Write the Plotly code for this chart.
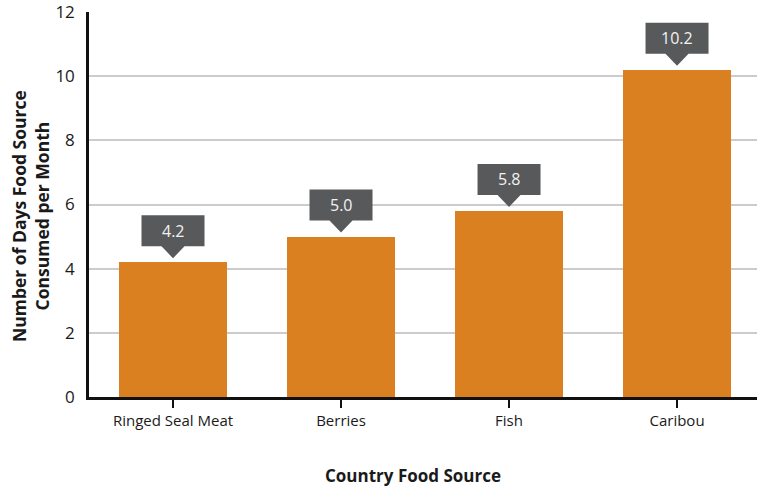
import plotly.graph_objects as go

categories = ["Ringed Seal Meat", "Berries", "Fish", "Caribou"]
values = [4.2, 5.0, 5.8, 10.2]
y_ticks = [0, 2, 4, 6, 8, 10, 12]

BAR = "#DB8020"
CALLOUT = "#58595B"
FONT = "Open Sans"
TXT = "#1a1a1a"

L, R, T, B, W, H = 89, 0, 12, 90, 757, 487
PW, PH = W - L - R, H - T - B

fig = go.Figure()
fig.add_trace(go.Bar(
    x=list(range(len(categories))), y=values, width=0.645,
    marker=dict(color=BAR, line=dict(width=0)), hoverinfo="skip",
))

# callouts: box + pointer, anchored to each bar top, sized in pixels
box_half, box_bot, box_top, tip, tri_half = 31.5, 16, 47, 4, 11.5
path = (f"M {-box_half},{box_bot} L {-tri_half},{box_bot} L 0,{tip} L {tri_half},{box_bot} "
        f"L {box_half},{box_bot} L {box_half},{box_top} L {-box_half},{box_top} Z")
for i, v in enumerate(values):
    fig.add_shape(type="path", xref="x", yref="y", xsizemode="pixel", ysizemode="pixel",
                  xanchor=i, yanchor=v, path=path, fillcolor=CALLOUT, line=dict(width=0),
                  layer="above")
    fig.add_annotation(x=i, y=v, xref="x", yref="y", text=f"{v:.1f}", showarrow=False,
                       yshift=(box_bot + box_top) / 2, yanchor="middle",
                       font=dict(family=FONT, size=16, color="#F2F2F2"))

# axis titles
fig.add_annotation(xref="paper", yref="paper", x=(413 - L) / PW, y=-(475 - (T + PH)) / PH,
                   text="<b>Country Food Source</b>", showarrow=False,
                   xanchor="center", yanchor="middle",
                   font=dict(family=FONT, size=17, color=TXT))
fig.add_annotation(xref="paper", yref="paper", x=(31 - L) / PW, y=((T + PH) - 216) / PH,
                   text="<b>Number of Days Food Source<br>Consumed per Month</b>",
                   showarrow=False, textangle=-90, xanchor="center", yanchor="middle",
                   font=dict(family=FONT, size=17.5, color=TXT))

fig.update_layout(
    width=W, height=H,
    margin=dict(l=L, r=R, t=T, b=B, autoexpand=False),
    paper_bgcolor="white", plot_bgcolor="white",
    showlegend=False, bargap=0,
    font=dict(family=FONT, color=TXT),
    xaxis=dict(
        tickmode="array", tickvals=list(range(len(categories))), ticktext=categories,
        range=[-0.5, 3.476], tickson="boundaries", ticks="outside", ticklen=8, tickwidth=2,
        tickcolor="#111", showline=True, linecolor="#111", linewidth=2.5,
        showgrid=False, zeroline=False, tickfont=dict(size=15, color=TXT),
        automargin=False,
    ),
    yaxis=dict(
        range=[0, 12], tickmode="array", tickvals=y_ticks, ticks="", showline=True,
        linecolor="#111", linewidth=2.5, showgrid=True, gridcolor="#CCCCCC", gridwidth=1.5,
        zeroline=False, tickfont=dict(size=17, color=TXT), ticklabelstandoff=8,
        ticklabeloverflow="allow", automargin=False,
    ),
)

fig.write_html("out.html", config={"displayModeBar": False},
               post_script="document.body.style.margin='0';")
